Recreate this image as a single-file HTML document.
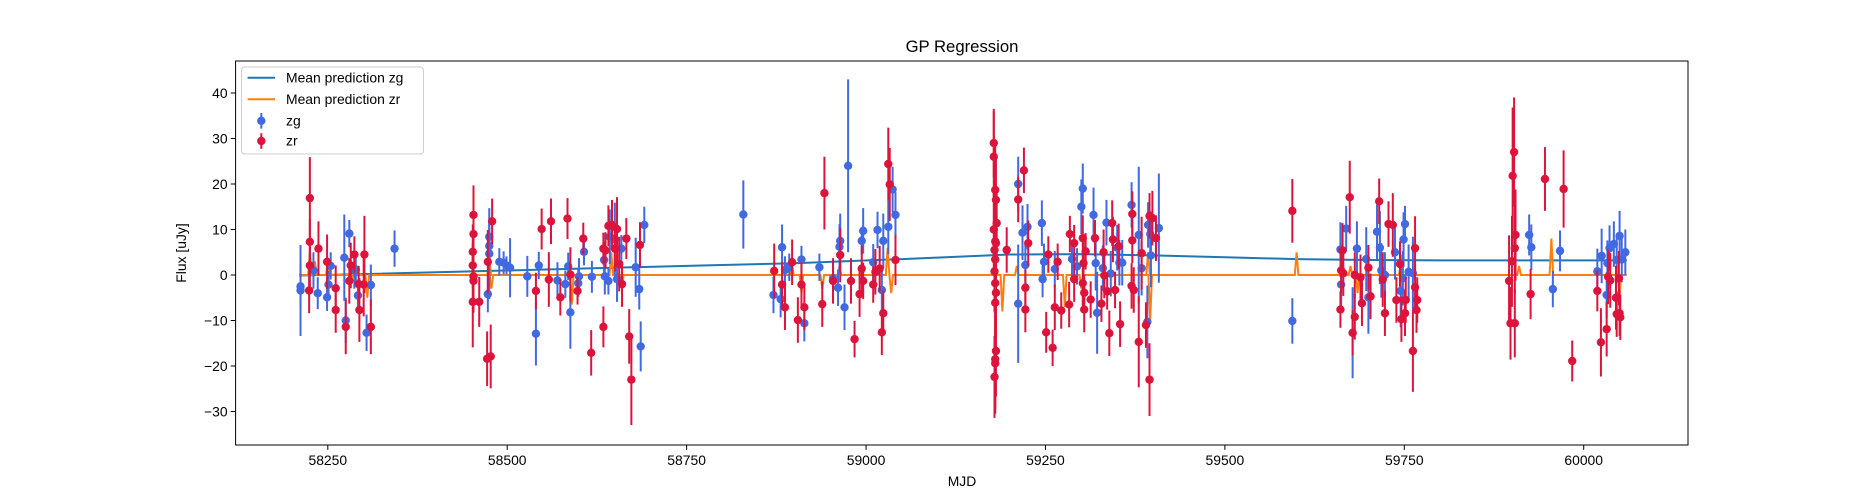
<!DOCTYPE html>
<html><head><meta charset="utf-8"><title>GP Regression</title>
<style>
html,body{margin:0;padding:0;background:#fff;}
svg{display:block;font-family:"Liberation Sans","DejaVu Sans",sans-serif;}
</style></head>
<body>
<svg id="chart" width="1875" height="500" viewBox="0 0 1875 500" xmlns="http://www.w3.org/2000/svg">
<rect x="0" y="0" width="1875" height="500" fill="#fff"/>
<text x="962" y="52" font-size="16.7" text-anchor="middle" fill="#000">GP Regression</text>
<g id="grid"></g>
<g id="marks"></g>
<rect x="235.6" y="61" width="1452.4" height="384" fill="none" stroke="#000" stroke-width="1"/>
<g id="axes"></g>
<text x="962" y="486" font-size="13.9" text-anchor="middle" fill="#000">MJD</text>
<text x="0" y="0" font-size="13.9" text-anchor="middle" fill="#000" transform="translate(186,253) rotate(-90)">Flux [uJy]</text>
<g>
<rect x="241.6" y="67" width="181.8" height="87" rx="3" fill="#fff" fill-opacity="0.8" stroke="#ccc" stroke-width="1"/>
<line x1="247.6" y1="77.8" x2="275" y2="77.8" stroke="#1f77b4" stroke-width="2"/>
<text x="286" y="82.5" font-size="13.9">Mean prediction zg</text>
<line x1="247.6" y1="99.3" x2="275" y2="99.3" stroke="#ff7f0e" stroke-width="2"/>
<text x="286" y="104" font-size="13.9">Mean prediction zr</text>
<line x1="261.3" y1="113" x2="261.3" y2="128.6" stroke="#4169e1" stroke-width="2"/>
<circle cx="261.3" cy="120.8" r="4.2" fill="#4169e1"/>
<text x="286" y="125.5" font-size="13.9">zg</text>
<line x1="261.3" y1="133.2" x2="261.3" y2="148.8" stroke="#dc143c" stroke-width="2"/>
<circle cx="261.3" cy="141" r="4.2" fill="#dc143c"/>
<text x="286" y="145.7" font-size="13.9">zr</text>
</g>
</svg>
<script>
const xTicks = [58250,58500,58750,59000,59250,59500,59750,60000];
const yTicks = [-30,-20,-10,0,10,20,30,40];

const zgMjd = [58212,58212,58230,58236,58249,58251,58254,58273,58275,58280,58287,58289,58292,58304,58310,58343,
58473,58475,58475,58475,58489,58495,58499,58504,58528,58540,58544,58570,58581,58585,58588,58599,58600,58607,58618,58635,58636,58641,58643,58650,58653,58659,58679,58684,58686,58691,
58829,
58871,58881,58883,58887,58893,58910,58914,58935,58954,58961,58964,58963,58970,58975,58994,58996,59010,59016,59022,59024,59031,59037,59041,
59212,59212,59218,59225,59222,59245,59246,59248,59263,59287,59294,59300,59302,59317,59320,59322,59330,59335,59341,59350,59353,59357,59370,59380,59384,59392,59393,59396,59397,59408,
59594,
59661,59662,59669,59678,59684,59697,59700,59712,59716,59718,59723,59737,59745,59749,59751,59748,59756,59762,
59924,59927,59957,59967,
60019,60025,60032,60033,60036,60042,60046,60050,60053,60058];
const zgFlux = [-2.5,-3.4,1,-4,-4.9,-2.1,2,3.8,-10,9.1,1,1.2,-4.5,-12.7,-2.2,5.8,
-4.2,8.4,6.4,4.7,2.9,2.7,2.1,1.6,-0.3,-12.9,2.1,-1.2,-2,1.9,-8.2,-1.8,-0.3,5.1,-0.4,3.3,-0.3,-1.3,8.4,7.9,-0.9,5.8,1.7,-3.1,-15.7,11,
13.3,
-4.4,-5.3,6.1,1.1,1.7,3.4,-10.6,1.7,-0.7,-2.8,7.5,6.2,-7.1,24,7.5,9.7,2.8,9.9,-3.3,7.5,10.6,18.8,13.2,
20,-6.3,9.3,10.6,2.2,11.4,-0.9,2.9,1.3,3.5,1.9,15,19,13.2,2.6,-8.3,1.5,11.5,0.3,6,2.7,2.7,15.4,8.8,1.5,-10.3,11,9,4.3,10.3,
-10.1,
5.6,-2.1,10.2,-12.7,5.8,3.5,-4.9,9.5,6,1,0,5,-3.5,7.8,11.2,-0.7,0.7,0.4,
8.8,6.1,-3.1,5.3,
0.8,4.2,-4.4,2.6,5.9,6.8,3.3,8.6,3.4,5];
const zgErr = [5,10,4,3.5,3,3,3,9.5,5,3,4,3,3.5,4,4.5,4,
4,4,4,10,3,2.5,2,6.5,4.5,7,3,4,3,3,8,3,4,3,3.5,4,4,3,6,8,5,3,6.5,4.5,5.5,4,
7.5,
4,4,5,3,3,3,4,3,4,4,6,5,5,19,3,5,4,4,5,6,6,5,5,
6,13,6,5,5,5,4,4,4,4,4,6,5.5,6,6,9,5,5,5,5,5,5,5,15,6,8,5,5,7,12,
5,
6,5,5,10,6,7,8,6,8,6,5,6,8,6,4,6,6,8,
4.5,5,4,4.5,
5,6,5,5,5,5,5,5.5,5,5];

const zrMjd = [58225,58225,58225,58224,58237,58249,58261,58261,58275,58280,58282,58287,58293,58294,58300,58301,58310,
58453,58453,58452,58452,58453,58453,58452,58461,58472,58477,58473,58479,58540,58548,58561,58558,58574,58584,58588,58598,58606,58617,58634,58634,58637,58641,58646,58650,58653,58656,58660,58666,58670,58673,58685,
58872,58883,58887,58897,58905,58910,58914,58939,58942,58954,58964,58979,58984,58991,58994,58996,59010,59013,59019,59024,59022,59031,59033,59041,
59178,59178,59180,59181,59182,59178,59180,59181,59179,59180,59179,59180,59181,59180,59181,59180,59180,59179,59196,59212,59220,59226,59222,59222,59254,59251,59260,59263,59267,59272,
59284,59290,59290,59283,59302,59303,59302,59304,59306,59304,59313,59319,59328,59331,59332,59336,59339,59343,59344,59347,59352,59354,59370,59371,59371,59373,59380,59384,59390,59395,59399,59404,59395,
59594,
59661,59662,59664,59665,59674,59678,59681,59681,59689,59691,59700,59703,59715,59720,59723,59728,59734,59739,59744,59746,59751,59752,59762,59765,59765,59767,59768,
59903,59901,59905,59904,59900,59896,59898,59904,59926,59946,59972,59984,
60019,60024,60032,60034,60037,60045,60046,60049,60051,60050];
const zrFlux = [16.9,7.3,2.1,-3.4,5.8,2.9,-2.9,-7.7,-11.4,-1.3,2.1,4.5,-2,-7.7,-2.1,4.5,-11.4,
13.2,9,5.1,2.1,-0.3,-1.3,-5.9,-5.9,-18.4,-17.9,2.9,11.8,-3.5,10.1,11.8,-1,-4.9,12.4,0.1,-3.5,8,-17.1,-11.4,5.8,5.4,10.8,11,5.8,10.1,2.4,-2,8,-13.5,-23,6.6,
0.9,-2.1,-7.1,2.8,-9.9,-2.1,-7.1,-6.4,18,-1.3,4.4,-1.3,-14.1,-4.2,1.4,-1.3,-2.1,0.7,1.4,-8.4,-12.6,24.4,19.9,3.3,
29,26,18.7,16.5,11.4,10,7.4,7,5.5,3.4,0.8,-1.8,-3.9,-6.1,-16.7,-18.5,-19.4,-22.4,5.5,16.6,23,7,-2.8,-7.6,4.5,-12.6,-16,-7.1,2.9,-7.8,
9,7,-0.9,-6.5,8.1,2.6,-1.8,-3.9,5.2,-7.6,-5.4,8.1,-6.3,5,-0.1,-3.6,-12.8,11.4,7.8,-3.3,6.3,-10.8,-2.4,7.6,13.4,-3.3,-14.7,4.8,-11,13,12.5,8.1,-23,
14.1,
-7.6,1,5.4,0.4,17.1,-12.7,0,-9.2,-0.5,-6.2,1.6,-4.7,16.2,-1,-8.4,11.2,11,-5.5,2.4,-9.7,-8.4,-5.5,-16.7,5.9,-2.7,-7.7,-5.5,
27,21.8,8.8,5.9,3,-1.3,-10.6,-10.6,-4.2,21.1,18.9,-18.9,
-3.5,-14.8,-11.9,-0.4,-1.2,-5,-8.6,-0.7,-9.3,-8.4];
const zrErr = [9,5,5,5,6,6,5,5,6,5,5,4,4,7,7,8.5,6,
6.5,6,6,5,5,7,10,5.5,6,7,7,5,4,4.5,5,6,4,4.5,6,3,3.5,5,4.5,3.5,4,4.5,5.5,5,7,6,5,4.5,6,10,5,
6,5,5,5,5,5,5,5,8,5,6,5,4,5,5,4,4,5,5,5,5,8,8,5.5,
7.5,10,10,10,8,9,8,9,10,8,9,10,10,10,10,12,10,9,5,5,5,5,4,5,4,4.5,4,5,4,4,
4,4,5,5,5,5,5,4,4,5,4,4,4,5,5,4,5,5,5,4,5,5,5,5,5,5,10,8,5,5,6,5,8,
7,
4,5,6,5,8,5,5,5,5,5,5,5,5,6,5,5,7,5,5,5,5,5,9,7,5,5,5,
12,15,10,10,10,10,8,7.5,5.5,7,8.5,4.5,
4.5,7.5,6,6,6,7,5,6,5,5];

const zgMeanMjd = [58210,58300,58450,58600,58750,58900,59050,59200,59300,59400,59500,59600,59700,59800,59950,60060];
const zgMeanFlux = [-0.1,0.2,0.8,1.4,2,2.6,3.5,4.5,4.6,4.3,3.9,3.5,3.3,3.2,3.2,3.2];
const zrSpikeMjd = [58225,58232,58250,58282,58305,58475,58478,58590,58645,58660,58897,58910,58939,58963,59030,59035,59190,59210,59277,59300,59393,59396,59600,59675,59685,59745,59910,59955,60035,60050];
const zrSpikeVal = [5,3,3,-2,-5,4,-3,-6.5,5,-2,2,-4,-3,2,6,-4,-8,2,-7,-3,5,-10,5,2,-4,2,2,8,-3,-4];

const X0=235.6, X1=1688, Y0=61, Y1=445;
function xs(m){ return 327.8 + (m-58250)*0.71766; }
function ys(f){ return 275 - f*4.55; }
const NS="http://www.w3.org/2000/svg";
function mk(tag, attrs, parent){ const e=document.createElementNS(NS,tag); for(const k in attrs) e.setAttribute(k,attrs[k]); parent.appendChild(e); return e; }

const axes=document.getElementById('axes');
const marks=document.getElementById('marks');
xTicks.forEach(t=>{
  const x=xs(t);
  const tk=mk('line',{x1:x,y1:Y1,x2:x,y2:Y1+4.9,stroke:'#000','stroke-width':1},axes);
  
  
  const lb=mk('text',{x:x,y:Y1+20,'font-size':13.9,'text-anchor':'middle'},axes);
  lb.textContent=String(t);
  
  
});
yTicks.forEach(t=>{
  const y=ys(t);
  const tk=mk('line',{x1:X0-4.9,y1:y,x2:X0,y2:y,stroke:'#000','stroke-width':1},axes);
  
  
  const lb=mk('text',{x:X0-8,y:y+5,'font-size':13.9,'text-anchor':'end'},axes);
  lb.textContent=(t<0?'\u2212'+(-t):String(t));
  
  
});

let d='';
zgMeanMjd.forEach((m,i)=>{ d+=(i?'L':'M')+xs(m).toFixed(1)+','+ys(zgMeanFlux[i]).toFixed(1); });
const zgLine=mk('path',{d:d,fill:'none',stroke:'#1f77b4','stroke-width':2},marks);



let pts=[[58210,0]];
zrSpikeMjd.forEach((m,i)=>{ pts.push([m-2.5,0]); pts.push([m,zrSpikeVal[i]]); pts.push([m+2.5,0]); });
pts.push([60060,0]);
d='';
pts.forEach((p,i)=>{ d+=(i?'L':'M')+xs(p[0]).toFixed(1)+','+ys(p[1]).toFixed(1); });
const zrLine=mk('path',{d:d,fill:'none',stroke:'#ff7f0e','stroke-width':2},marks);



function drawSeries(mjd,flux,err,color,name){
  const g=mk('g',{},marks);
  
  
  mjd.forEach((m,i)=>{
    const x=xs(m);
    const eb=mk('line',{x1:x,y1:ys(flux[i]+err[i]),x2:x,y2:ys(flux[i]-err[i]),stroke:color,'stroke-width':2},g);
    
    
  });
  mjd.forEach((m,i)=>{
    const c=mk('circle',{cx:xs(m),cy:ys(flux[i]),r:4.2,fill:color},g);
    
    
  });
}
drawSeries(zgMjd,zgFlux,zgErr,'#4169e1','zg');
drawSeries(zrMjd,zrFlux,zrErr,'#dc143c','zr');
</script>
</body></html>
